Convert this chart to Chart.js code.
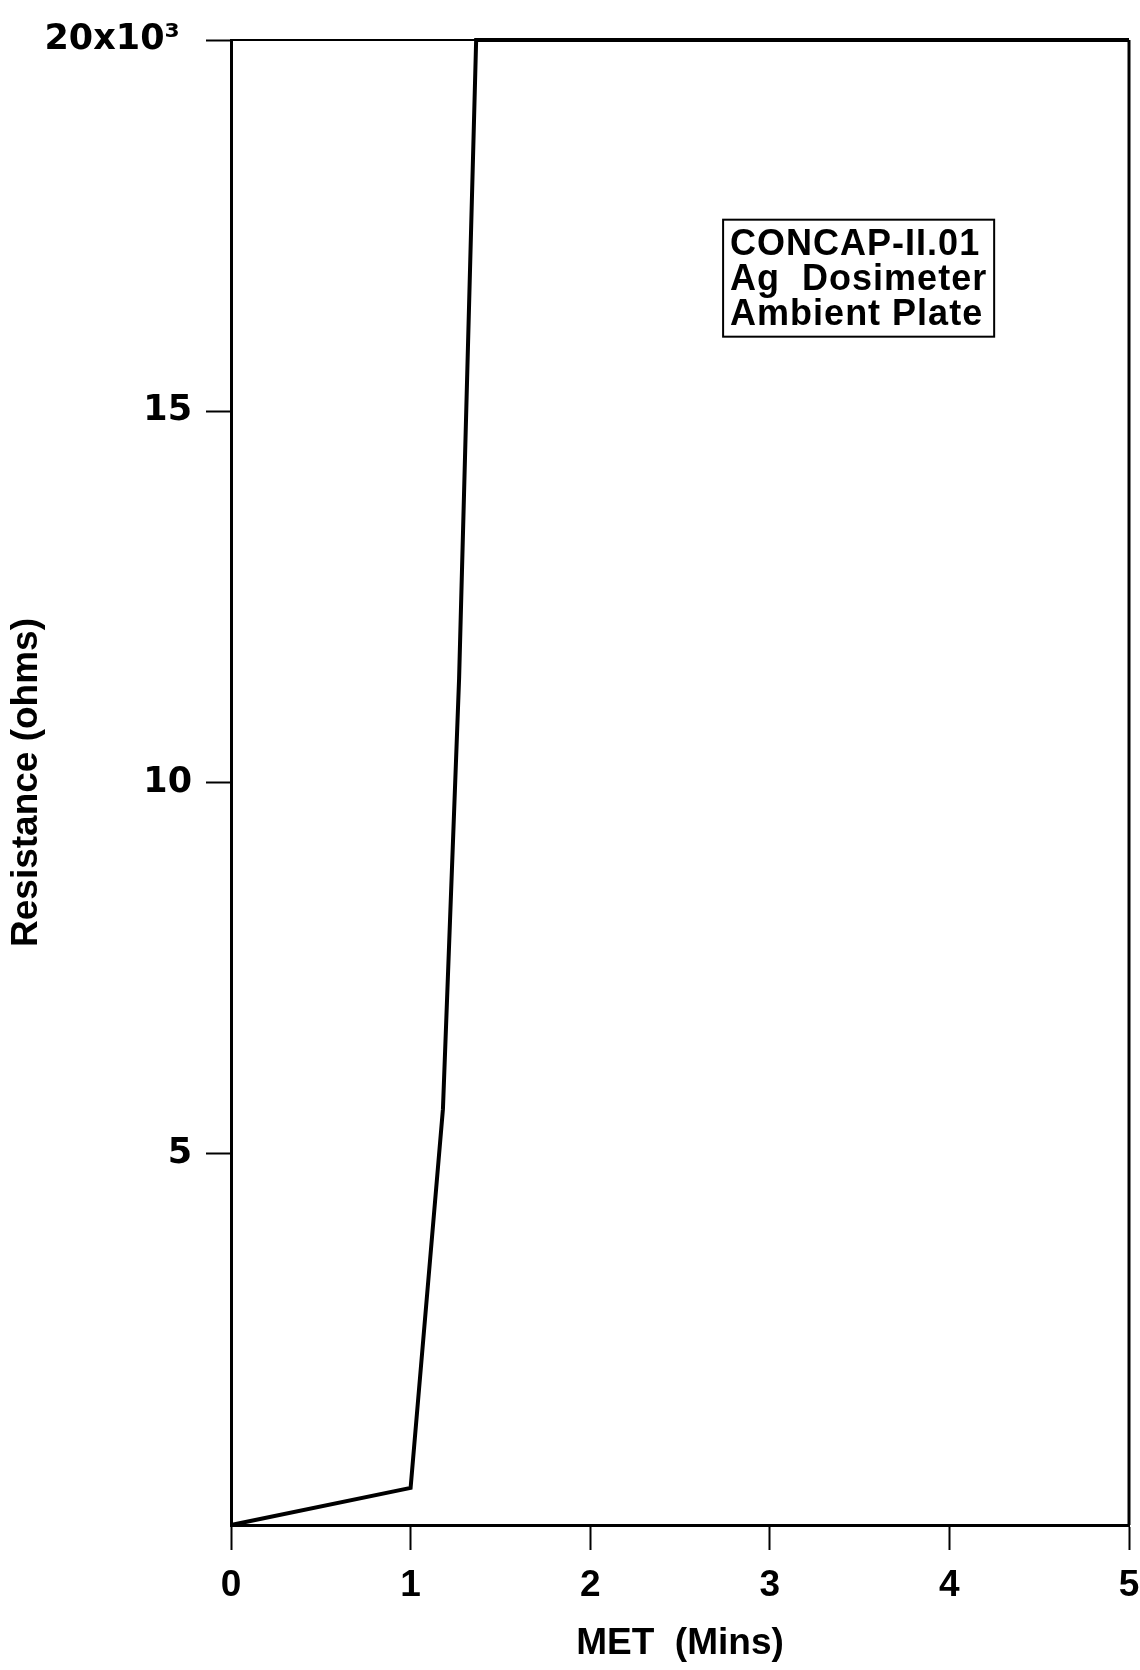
<!DOCTYPE html>
<html>
<head>
<meta charset="utf-8">
<script src="https://cdn.jsdelivr.net/npm/chart.js@4"></script>
<style>
  html, body { margin: 0; padding: 0; background: #fff; }
  canvas { display: block; }
</style>
</head>
<body>
<canvas id="chart" width="1140" height="1670"></canvas>
<script>
// MET in minutes vs silver dosimeter resistance (ohms)
const metMins = [0, 1.0, 1.18, 1.27, 1.365, 5];
const resistance = [0, 500, 5600, 11400, 20000, 20000];

const xTickValues = [0, 1, 2, 3, 4, 5];
const yTickValues = [5000, 10000, 15000, 20000];
const yTickLabels = ['5', '10', '15', '20x10\u00B3 '];

const noteLines = ['CONCAP-II.01', 'Ag  Dosimeter', 'Ambient Plate'];
const notePos = { x: 2.74, y: 17580 };

// full box round the plot + the label box
const framePlugin = {
    id: 'frame',
    afterDatasetsDraw(chart) {
        const ctx = chart.ctx;
        const a = chart.chartArea;
        ctx.save();
        ctx.strokeStyle = '#000';
        ctx.lineWidth = 2;
        ctx.beginPath();
        ctx.moveTo(a.left, a.top);
        ctx.lineTo(a.right, a.top);
        ctx.stroke();
        ctx.lineWidth = 3;
        ctx.beginPath();
        ctx.moveTo(a.right, a.top);
        ctx.lineTo(a.right, a.bottom);
        ctx.stroke();

        const x0 = chart.scales.x.getPixelForValue(notePos.x);
        const y0 = chart.scales.y.getPixelForValue(notePos.y);
        ctx.font = 'bold 36px "Liberation Sans", Arial, sans-serif';
        ctx.letterSpacing = '1px';
        let w = 0;
        noteLines.forEach(t => { w = Math.max(w, ctx.measureText(t).width); });
        const lh = 35;
        ctx.lineWidth = 2;
        ctx.strokeRect(x0, y0, w + 14, lh * noteLines.length + 12);
        ctx.fillStyle = '#000';
        ctx.textBaseline = 'alphabetic';
        noteLines.forEach((t, i) => {
            ctx.fillText(t, x0 + 7, y0 + 35 + i * lh);
        });
        ctx.restore();
    }
};

new Chart(document.getElementById('chart'), {
    type: 'scatter',
    data: {
        datasets: [{
            data: metMins.map((m, i) => ({ x: m, y: resistance[i] })),
            showLine: true,
            borderColor: '#000',
            borderWidth: 4,
            pointRadius: 0,
            tension: 0,
            clip: 6
        }]
    },
    options: {
        responsive: false,
        animation: false,
        layout: { padding: { left: 5, right: 11, top: 40, bottom: 4 } },
        plugins: {
            legend: { display: false },
            tooltip: { enabled: false }
        },
        scales: {
            x: {
                type: 'linear',
                min: 0,
                max: 5,
                afterBuildTicks: s => { s.ticks = xTickValues.map(v => ({ value: v })); },
                afterFit: s => { s.height = 141; s.paddingLeft = 0; s.paddingRight = 0; },
                border: { color: '#000', width: 3 },
                grid: { drawOnChartArea: false, color: '#000', tickLength: 25, tickWidth: 2 },
                ticks: {
                    color: '#000',
                    padding: 14,
                    font: { family: '"Liberation Sans", Arial, sans-serif', size: 37, weight: 'bold' }
                },
                title: {
                    display: true,
                    text: 'MET  (Mins)',
                    color: '#000',
                    padding: { top: 0, bottom: 0 },
                    font: { family: '"Liberation Sans", Arial, sans-serif', size: 37, weight: 'bold' }
                }
            },
            y: {
                type: 'linear',
                min: 0,
                max: 20000,
                afterBuildTicks: s => { s.ticks = yTickValues.map(v => ({ value: v })); },
                afterFit: s => { s.width = 226; s.paddingTop = 0; s.paddingBottom = 0; },
                border: { color: '#000', width: 3 },
                grid: { drawOnChartArea: false, color: '#000', tickLength: 25, tickWidth: 2 },
                ticks: {
                    color: '#000',
                    padding: 14,
                    font: { family: '"DejaVu Sans", sans-serif', size: 35, weight: 'bold' },
                    callback: v => yTickLabels[yTickValues.indexOf(v)]
                },
                title: {
                    display: true,
                    text: 'Resistance (ohms)',
                    color: '#000',
                    padding: { top: 0, bottom: 0 },
                    font: { family: '"Liberation Sans", Arial, sans-serif', size: 37, weight: 'bold' }
                }
            }
        }
    },
    plugins: [framePlugin]
});
</script>
</body>
</html>
